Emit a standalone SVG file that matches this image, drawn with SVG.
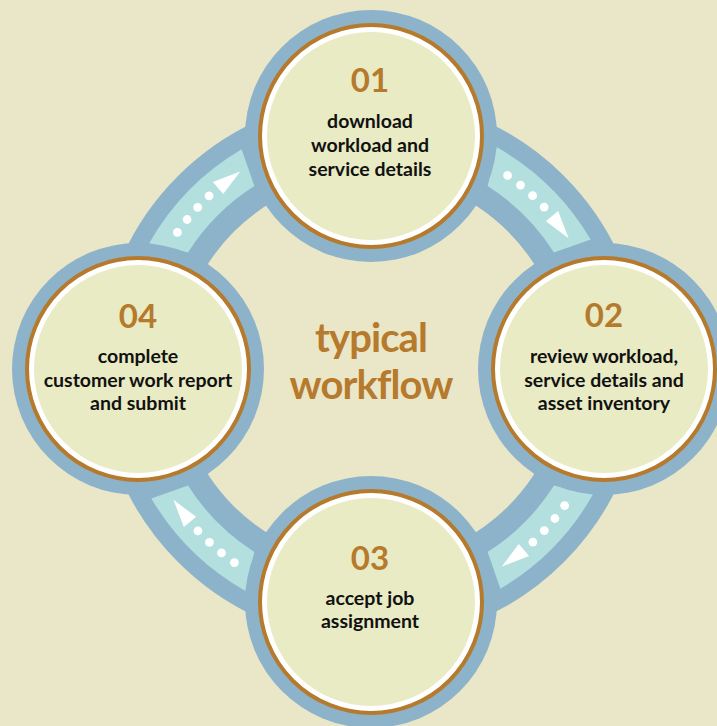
<svg xmlns="http://www.w3.org/2000/svg" width="717" height="726" viewBox="0 0 717 726">
<defs>
<style>
.bg{fill:#EAE6C8}
.band{fill:none;stroke:#8DB3CA;stroke-width:79}
.lane{fill:#B3DFDF}
.dot{fill:#FFFFFF}
.head{fill:#FFFFFF}
.nb{fill:#8DB3CA}
.nr{fill:#FFFFFF;stroke:#B57A2C;stroke-width:4}
.nf{fill:#E8EBC3}
.num{font-family:Lato,"Liberation Sans",sans-serif;font-weight:700;font-size:33px;fill:#B57A2C;text-anchor:middle}
.lbl{font-family:Lato,"Liberation Sans",sans-serif;font-weight:700;font-size:19.5px;fill:#111111;text-anchor:middle}
.title{font-family:Lato,"Liberation Sans",sans-serif;font-weight:700;font-size:40px;letter-spacing:-0.9px;fill:#B57A2C;text-anchor:middle}
</style>
<g id="seg">
<path class="lane" d="M149.1,243.4 A255,255 0 0 1 241.6,149.3 L254.4,186.0 A217,217 0 0 0 188.0,252.4 Z"/>
<circle class="dot" cx="177.4" cy="232.4" r="4.4"/>
<circle class="dot" cx="187.1" cy="219.5" r="4.4"/>
<circle class="dot" cx="197.7" cy="207.4" r="4.4"/>
<circle class="dot" cx="209.1" cy="195.9" r="4.4"/>
<polygon class="head" points="240.2,171.4 212.9,181.9 223.2,194.1"/>
</g>
</defs>
<rect class="bg" x="0" y="0" width="717" height="726"/>
<g id="connectors">
<circle class="band" cx="371" cy="369" r="233.5"/>
<use href="#seg"/>
<use href="#seg" transform="rotate(90 371 369)"/>
<use href="#seg" transform="rotate(180 371 369)"/>
<use href="#seg" transform="rotate(270 371 369)"/>
</g>
<g id="node01">
<circle class="nb" cx="371" cy="136" r="126"/>
<circle class="nr" cx="371" cy="136" r="111"/>
<circle class="nf" cx="371" cy="136" r="104"/>
<text class="num" x="370" y="92">01</text>
<text class="lbl" x="370" y="128">download</text>
<text class="lbl" x="370" y="152">workload and</text>
<text class="lbl" x="370" y="176">service details</text>
</g>
<g id="node02">
<circle class="nb" cx="604" cy="369" r="126"/>
<circle class="nr" cx="604" cy="369" r="111"/>
<circle class="nf" cx="604" cy="369" r="104"/>
<text class="num" x="604" y="327">02</text>
<text class="lbl" x="604" y="363">review workload,</text>
<text class="lbl" x="604" y="387">service details and</text>
<text class="lbl" x="604" y="410">asset inventory</text>
</g>
<g id="node03">
<circle class="nb" cx="371" cy="602" r="126"/>
<circle class="nr" cx="371" cy="602" r="111"/>
<circle class="nf" cx="371" cy="602" r="104"/>
<text class="num" x="370" y="570">03</text>
<text class="lbl" x="370" y="605">accept job</text>
<text class="lbl" x="370" y="628">assignment</text>
</g>
<g id="node04">
<circle class="nb" cx="138" cy="369" r="126"/>
<circle class="nr" cx="138" cy="369" r="111"/>
<circle class="nf" cx="138" cy="369" r="104"/>
<text class="num" x="138" y="328">04</text>
<text class="lbl" x="138" y="363">complete</text>
<text class="lbl" x="138" y="387">customer work report</text>
<text class="lbl" x="138" y="410">and submit</text>
</g>
<g id="center">
<text class="title" x="371" y="352">typical</text>
<text class="title" x="371" y="399">workflow</text>
</g>
</svg>
